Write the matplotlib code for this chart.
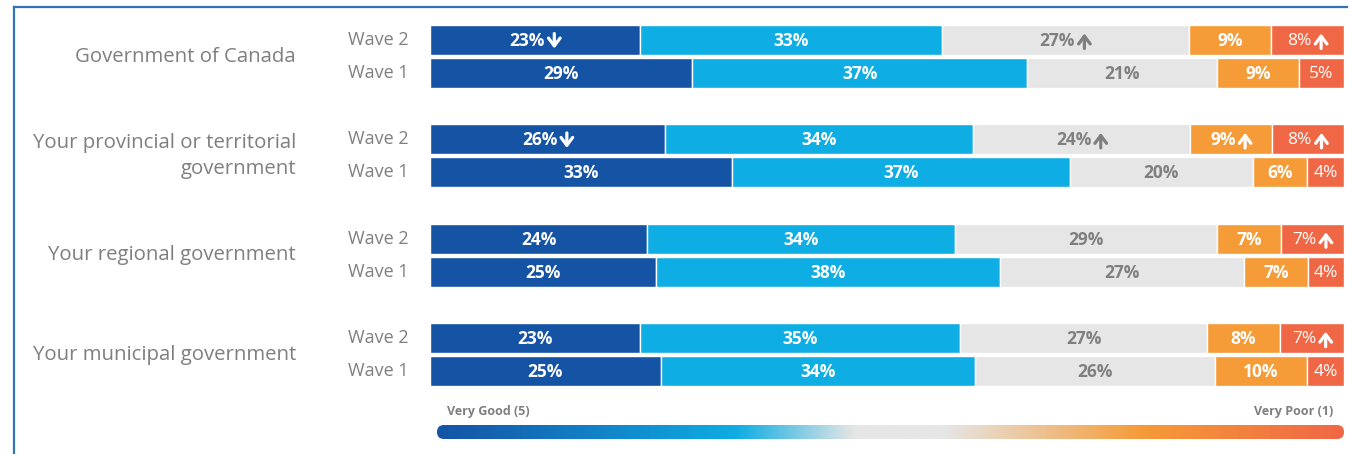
import numpy as np
import matplotlib
matplotlib.use("Agg")
import matplotlib.pyplot as plt
from matplotlib.colors import LinearSegmentedColormap
from matplotlib.patches import FancyBboxPatch
from matplotlib.lines import Line2D

# ---------------- data ----------------
categories = ["Government of Canada",
              "Your provincial or territorial\ngovernment",
              "Your regional government",
              "Your municipal government"]
waves = ["Wave 2", "Wave 1"]
very_good = [[23, 29], [26, 33], [24, 25], [23, 25]]
good = [[33, 37], [34, 37], [34, 38], [35, 34]]
neutral = [[27, 21], [24, 20], [29, 27], [27, 26]]
poor = [[9, 9], [9, 6], [7, 7], [8, 10]]
very_poor = [[8, 5], [8, 4], [7, 4], [7, 4]]
# significance arrows keyed by (group, wave row, segment)
arrows = {
    (0, 0, 0): "down", (0, 0, 2): "up", (0, 0, 4): "up",
    (1, 0, 0): "down", (1, 0, 2): "up", (1, 0, 3): "up", (1, 0, 4): "up",
    (2, 0, 4): "up",
    (3, 0, 4): "up",
}
scale_labels = ["Very Good (5)", "Very Poor (1)"]

seg_colors = ["#1553A5", "#0EADE3", "#E6E6E6", "#F59B37", "#F06745"]
txt_colors = ["white", "white", "#7F7F7F", "white", "white"]
txt_weights = ["bold", "bold", "bold", "bold", "normal"]

W, H = 1352, 454
fig = plt.figure(figsize=(W / 100, H / 100), dpi=100)
fig.patch.set_facecolor("white")

FONT = "Open Sans"

# frame lines (top and left)
fig.add_artist(Line2D([14 / W, 1347 / W], [1 - 6.5 / H, 1 - 6.5 / H],
                      color="#2E75B6", lw=1.6, transform=fig.transFigure))
fig.add_artist(Line2D([14.5 / W, 14.5 / W], [0, 1 - 6.5 / H],
                      color="#2E75B6", lw=1.6, transform=fig.transFigure))

ax = fig.add_axes([0, 0, 1, 1])
ax.set_xlim(0, W)
ax.set_ylim(H, 0)
ax.axis("off")
renderer = fig.canvas.get_renderer()

x0, x1 = 430, 1344
bar_h = 30
first_center = 40
group_step = 99.4
wave_step = 33

series = [very_good, good, neutral, poor, very_poor]
ARW_W = 16   # pixel width reserved for the arrow glyph
ARW_H = 7.5  # half height of the arrow glyph

for g, cat in enumerate(categories):
    yc2 = first_center + g * group_step
    for w in range(2):
        yc = yc2 + w * wave_step
        vals = np.array([s[g][w] for s in series], dtype=float)
        frac = vals / vals.sum() * (x1 - x0)
        lefts = x0 + np.concatenate([[0], np.cumsum(frac)[:-1]])
        ax.barh(yc, frac, left=lefts, height=bar_h, color=seg_colors,
                edgecolor="white", linewidth=1.0)
        for k in range(5):
            cx = lefts[k] + frac[k] / 2
            label = f"{int(vals[k])}%"
            a = arrows.get((g, w, k), "")
            t = ax.text(cx, yc + 1, label, ha="center", va="center",
                        color=txt_colors[k], fontsize=12.5,
                        fontweight=txt_weights[k], family=FONT)
            if a:
                tw = t.get_window_extent(renderer).width
                total = tw + ARW_W
                t.set_x(cx - total / 2 + tw / 2)
                axp = cx - total / 2 + tw + ARW_W / 2 + 1.5
                top, bot = yc - ARW_H + 1, yc + ARW_H + 1
                head, tail = (top, bot) if a == "up" else (bot, top)
                ax.annotate("", xy=(axp, head), xytext=(axp, tail),
                            arrowprops=dict(arrowstyle="->,head_length=0.4,head_width=0.3",
                                            color=txt_colors[k], lw=2.3,
                                            mutation_scale=14,
                                            shrinkA=0, shrinkB=0))
        ax.text(409, yc, waves[w], ha="right", va="center", color="#7F7F7F",
                fontsize=13, family=FONT)
    ax.text(296, yc2 + wave_step / 2, cat, ha="right", va="center",
            color="#7F7F7F", fontsize=14.7, family=FONT, linespacing=1.4)

# scale labels
ax.text(447, 411, scale_labels[0], ha="left", va="center", color="#7F7F7F",
        fontsize=9, fontweight="bold", family=FONT)
ax.text(1333, 411, scale_labels[1], ha="right", va="center", color="#7F7F7F",
        fontsize=9, fontweight="bold", family=FONT)

# gradient bar
gx0, gx1, gy0, gy1 = 437, 1344, 425, 439
cmap = LinearSegmentedColormap.from_list(
    "scale",
    [(0.0, "#1553A5"), (0.33, "#0EADE3"), (0.46, "#E6E6E6"),
     (0.56, "#E6E6E6"), (0.78, "#F59B37"), (1.0, "#F06745")])
grad = np.linspace(0, 1, 512).reshape(1, -1)
im = ax.imshow(grad, cmap=cmap, aspect="auto",
               extent=[gx0, gx1, gy1, gy0], interpolation="bilinear")
clip = FancyBboxPatch((gx0, gy0), gx1 - gx0, gy1 - gy0,
                      boxstyle="round,pad=0,rounding_size=7",
                      transform=ax.transData, facecolor="none", edgecolor="none")
ax.add_patch(clip)
im.set_clip_path(clip)
ax.set_xlim(0, W)
ax.set_ylim(H, 0)

fig.savefig("out.png", dpi=100, facecolor="white")
